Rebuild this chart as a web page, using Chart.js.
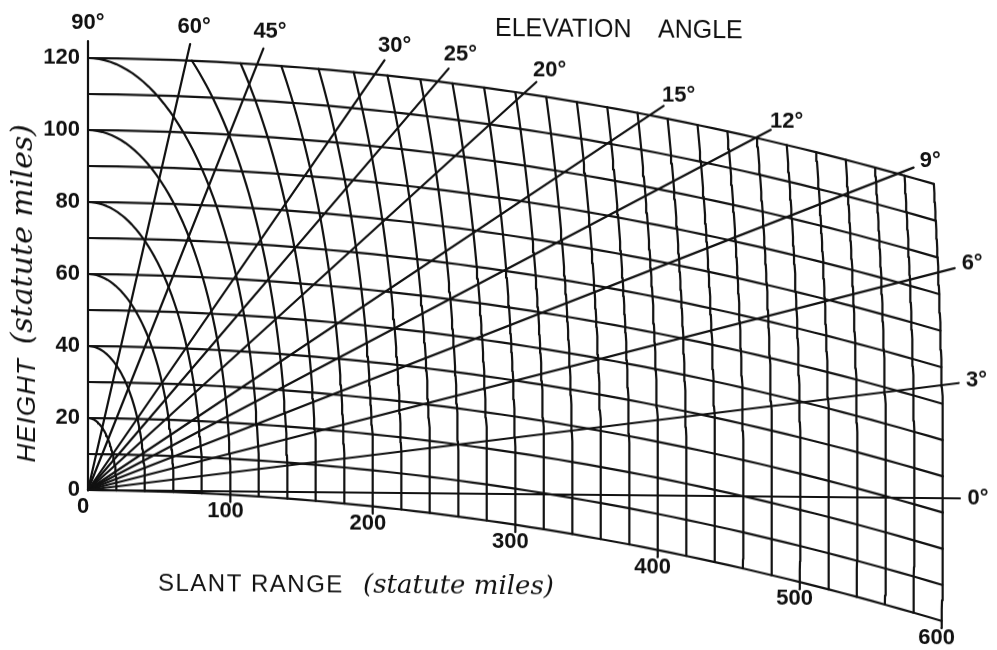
<!DOCTYPE html>
<html lang="en">
<head>
<meta charset="UTF-8">
<title>Elevation angle - slant range - height</title>
<script src="https://cdn.jsdelivr.net/npm/chart.js"></script>
<style>
  html, body { margin: 0; padding: 0; background: #fff; }
  #wrap { width: 997px; height: 650px; overflow: hidden; }
  /* the scanned sheet droops slightly to the right */
  #chart { display: block; transform: skewY(0.55deg); transform-origin: 88px 490px; }
</style>
</head>
<body>
<div id="wrap"><canvas id="chart" width="997" height="650"></canvas></div>
<script>
// grid values, statute miles and degrees
const heights = [0, 10, 20, 30, 40, 50, 60, 70, 80, 90, 100, 110, 120];
const ranges = [20, 40, 60, 80, 100, 120, 140, 160, 180, 200, 220, 240, 260, 280, 300,
                320, 340, 360, 380, 400, 420, 440, 460, 480, 500, 520, 540, 560, 580, 600];
const heightLabels = [0, 20, 40, 60, 80, 100, 120];
const rangeLabels = [0, 100, 200, 300, 400, 500, 600];
const angles = [0, 3, 6, 9, 12, 15, 20, 25, 30, 45, 60, 90];
const earthR = 5280;   // 4/3 earth radius
const maxH = 120, maxR = 600;

// page layout: where 0,0 sits and how many px per mile
const OX = 88, OY = 490, PX_X = 1.425, PX_Y = 3.6, W = 997, H = 650;

const ink = '#111';
const rad = d => d * Math.PI / 180;

// point on range circle r at height h above the curved earth
function onRange(r, h) {
  const y = h + (h * h - r * r) / (2 * earthR);
  return { x: Math.sqrt(Math.max(0, r * r - y * y)), y: y };
}

function heightCurve(h) {
  const end = onRange(maxR, h);
  const pts = [];
  for (let x = 0; x < end.x; x += 10) {
    pts.push({ x: x, y: Math.sqrt((earthR + h) ** 2 - x * x) - earthR });
  }
  pts.push(end);
  return pts;
}

function rangeArc(r) {
  const hb = rangeLabels.includes(r) ? -2 : 0;   // labelled ones poke out as ticks
  const yb = onRange(r, hb).y;
  const yt = Math.min(r, maxH + (maxH * maxH - r * r) / (2 * earthR));
  const a0 = Math.asin(yb / r), a1 = Math.asin(Math.min(1, yt / r));
  const pts = [];
  for (let i = 0; i <= 48; i++) {
    const a = a0 + (a1 - a0) * i / 48;
    pts.push({ x: r * Math.cos(a), y: r * Math.sin(a) });
  }
  return pts;
}

// slant range where a ray leaves the grid
function rayEnd(deg) {
  const s = Math.sin(rad(deg));
  const top = -earthR * s + Math.sqrt(earthR * earthR * s * s + 2 * maxH * earthR + maxH * maxH);
  return Math.min(maxR, top);
}
const pxLen = deg => Math.hypot(PX_X * Math.cos(rad(deg)), PX_Y * Math.sin(rad(deg)));

function ray(deg) {
  const s = rayEnd(deg) + 17 / pxLen(deg);
  return [{ x: 0, y: 0 }, { x: s * Math.cos(rad(deg)), y: s * Math.sin(rad(deg)) }];
}

const lineStyle = { showLine: true, borderColor: ink, borderWidth: 2.2, pointRadius: 0, fill: false, tension: 0 };
const datasets = [
  ...heights.map(h => ({ ...lineStyle, label: 'h' + h, data: heightCurve(h) })),
  ...ranges.map(r => ({ ...lineStyle, label: 'r' + r, data: rangeArc(r) })),
  ...angles.map(a => ({ ...lineStyle, label: 'a' + a, data: ray(a) }))
];

const gridLabels = {
  id: 'gridLabels',
  afterDatasetsDraw(chart) {
    const { ctx, scales: { x, y } } = chart;
    ctx.save();
    ctx.fillStyle = ink;
    ctx.font = 'bold 22px "Liberation Sans", Arial, sans-serif';

    // heights on the left
    ctx.textAlign = 'right';
    ctx.textBaseline = 'middle';
    heightLabels.forEach(h => ctx.fillText(String(h), x.getPixelForValue(0) - 8, y.getPixelForValue(h)));

    // slant ranges under the zero-height curve
    ctx.textAlign = 'center';
    rangeLabels.forEach(r => {
      const p = onRange(r, 0);
      ctx.fillText(String(r), x.getPixelForValue(p.x) - 5, y.getPixelForValue(p.y) + 17);
    });

    // elevation angles at the ray ends
    angles.forEach(a => {
      const s = rayEnd(a) + 35 / pxLen(a);
      ctx.fillText(a + '°', x.getPixelForValue(s * Math.cos(rad(a))), y.getPixelForValue(s * Math.sin(rad(a))));
    });

    // titles
    ctx.textAlign = 'left';
    ctx.textBaseline = 'alphabetic';
    ctx.font = '25px "Liberation Sans", Arial, sans-serif';
    ctx.fillText('ELEVATION', 495, 32);
    ctx.fillText('ANGLE', 658, 32);

    ctx.font = '24px "Liberation Sans", Arial, sans-serif';
    ctx.letterSpacing = '1.5px';
    ctx.fillText('SLANT RANGE', 158, 590);
    ctx.letterSpacing = '0px';
    ctx.font = 'italic 26px "DejaVu Serif", serif';
    ctx.fillText('(statute miles)', 363, 590);

    ctx.translate(35, 463);
    ctx.rotate(-Math.PI / 2);
    ctx.font = 'italic 26px "Liberation Sans", Arial, sans-serif';
    ctx.letterSpacing = '1px';
    ctx.fillText('HEIGHT', 0, 0);
    ctx.letterSpacing = '0px';
    ctx.font = 'italic 30px "DejaVu Serif", serif';
    ctx.fillText('(statute miles)', 118, -3);
    ctx.restore();
  }
};

new Chart(document.getElementById('chart').getContext('2d'), {
  type: 'scatter',
  data: { datasets: datasets },
  options: {
    responsive: false,
    devicePixelRatio: 1,
    animation: false,
    layout: { padding: 0 },
    elements: { line: { borderCapStyle: 'round', borderJoinStyle: 'round' } },
    plugins: { legend: { display: false }, tooltip: { enabled: false } },
    scales: {
      x: { type: 'linear', display: false, bounds: 'data', min: -OX / PX_X, max: (W - OX) / PX_X },
      y: { type: 'linear', display: false, bounds: 'data', min: (OY - H) / PX_Y, max: OY / PX_Y }
    }
  },
  plugins: [gridLabels]
});
</script>
</body>
</html>
